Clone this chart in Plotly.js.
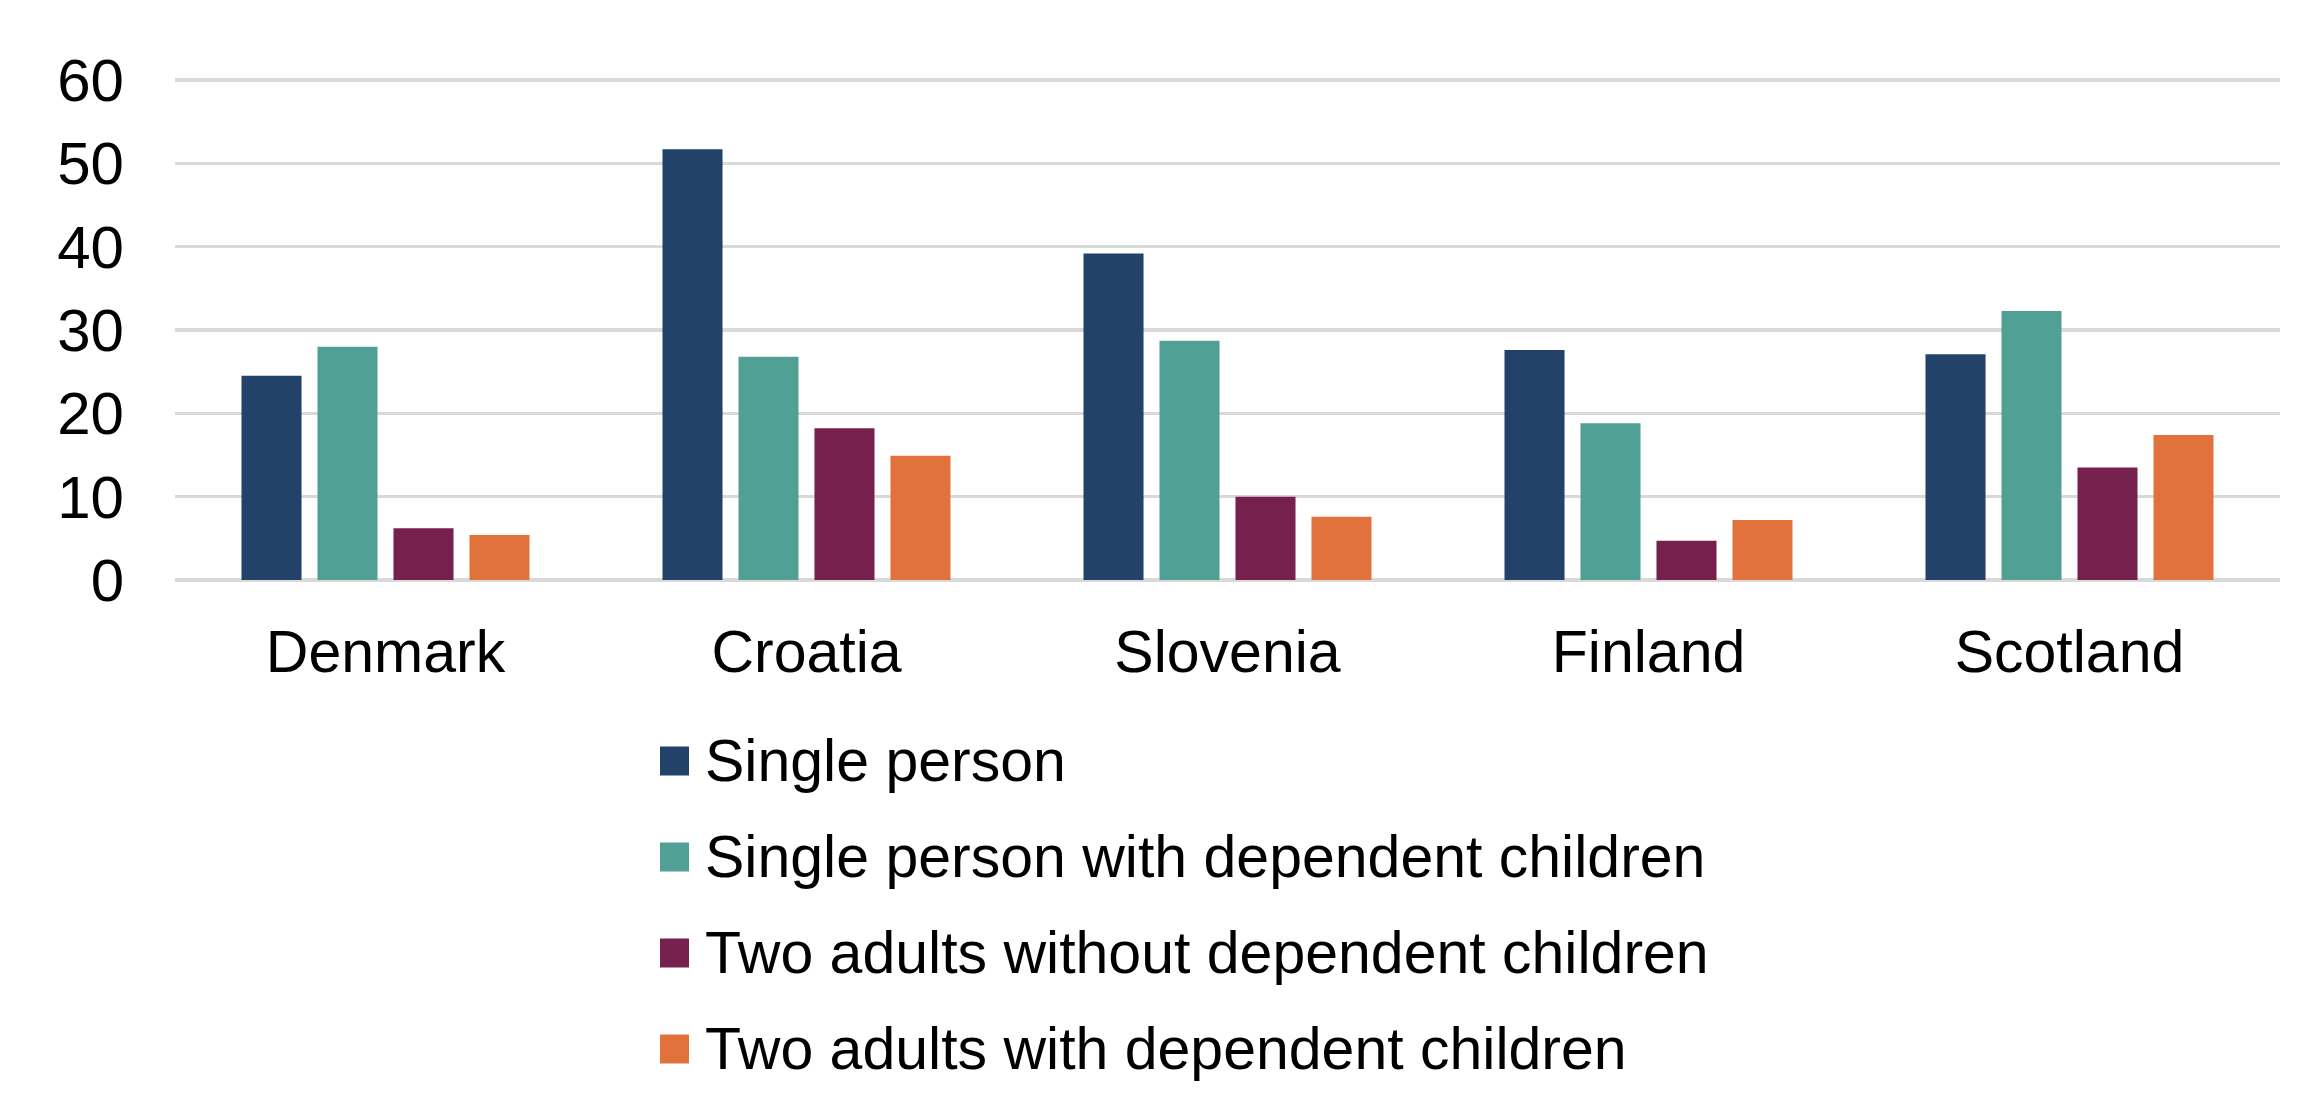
<!DOCTYPE html>
<html>
<head>
<meta charset="utf-8">
<script src="https://cdn.plot.ly/plotly-3.0.1.min.js"></script>
<style>
  html, body { margin: 0; padding: 0; background: #ffffff; }
  #chart { width: 2320px; height: 1114px; }
</style>
</head>
<body>
<div id="chart"></div>
<script>
// categories and series
var countries = ["Denmark", "Croatia", "Slovenia", "Finland", "Scotland"];
var seriesNames = [
	"Single person",
	"Single person with dependent children",
	"Two adults without dependent children",
	"Two adults with dependent children"
];
var singlePerson      = [24.5, 51.7, 39.2, 27.6, 27.1];
var singleWithKids    = [28.0, 26.8, 28.7, 18.8, 32.3];
var twoAdultsNoKids   = [6.2, 18.2, 10.0, 4.7, 13.5];
var twoAdultsWithKids = [5.4, 14.9, 7.6, 7.2, 17.4];
var seriesValues = [singlePerson, singleWithKids, twoAdultsNoKids, twoAdultsWithKids];
var seriesColors = ["#22426a", "#50a096", "#76204e", "#e2723b"];

var W = 2320, H = 1114;
// top margin a touch small and range a touch past 60, so the 60 gridline
// sits inside the plot (plotly drops gridlines within 1px of the edge)
var margin = {l: 175, r: 40, t: 78, b: 534, pad: 0};
var plotW = W - margin.l - margin.r;
var plotH = H - margin.t - margin.b;

// pixel -> paper helpers for the hand built legend
function px2x(p){ return (p - margin.l) / plotW; }
function px2y(p){ return (H - margin.b - p) / plotH; }

var fontFam = "Liberation Sans, Arial, sans-serif";

var traces = [];
for (var s = 0; s < seriesNames.length; s++) {
	traces.push({
		type: 'bar',
		name: seriesNames[s],
		x: countries,
		y: seriesValues[s],
		marker: {color: seriesColors[s], line: {width: 0}},
		showlegend: false,
		hoverinfo: 'x+y+name'
	});
}

// legend: square swatch + label per series, stacked below the axis
var shapes = [];
var annotations = [];
var legX = 660, legRow0 = 761, legStep = 96, sw = 29;
for (var i = 0; i < seriesNames.length; i++) {
	var cy = legRow0 + i * legStep;
	shapes.push({
		type: 'rect', xref: 'paper', yref: 'paper',
		x0: px2x(legX), x1: px2x(legX + sw),
		y0: px2y(cy - sw / 2), y1: px2y(cy + sw / 2),
		fillcolor: seriesColors[i], line: {width: 0}
	});
	annotations.push({
		xref: 'paper', yref: 'paper',
		x: px2x(legX + sw + 14), y: px2y(cy),
		xanchor: 'left', yanchor: 'middle',
		text: seriesNames[i], showarrow: false,
		font: {family: fontFam, size: 59, color: '#000000'}
	});
}

var layout = {
	width: W,
	height: H,
	margin: margin,
	paper_bgcolor: '#ffffff',
	plot_bgcolor: '#ffffff',
	barmode: 'group',
	bargap: 0.278,
	bargroupgap: 0.21,
	showlegend: false,
	font: {family: fontFam, size: 59, color: '#000000'},
	xaxis: {
		type: 'category',
		showgrid: false,
		showline: false,
		ticks: '',
		ticklabelstandoff: 32,
		tickfont: {family: fontFam, size: 59, color: '#000000'},
		fixedrange: true
	},
	yaxis: {
		range: [0, 60.25],
		tick0: 0,
		dtick: 10,
		showgrid: true,
		gridcolor: '#d9d9d9',
		gridwidth: 3.3,
		zeroline: true,
		zerolinecolor: '#d9d9d9',
		zerolinewidth: 3.3,
		showline: false,
		ticks: '',
		ticklabelstandoff: 50,
		tickfont: {family: fontFam, size: 60, color: '#000000'},
		fixedrange: true
	},
	shapes: shapes,
	annotations: annotations
};

Plotly.newPlot('chart', traces, layout, {staticPlot: true, displayModeBar: false});
</script>
</body>
</html>
